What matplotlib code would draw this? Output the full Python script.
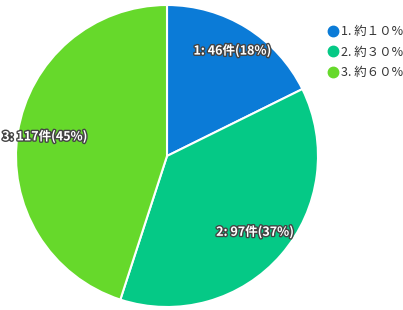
import numpy as np
import matplotlib.pyplot as plt
import matplotlib.patheffects as pe
from matplotlib.lines import Line2D

plt.rcParams['font.family'] = ['Noto Sans CJK JP', 'DejaVu Sans']

labels = ["1. 約１０%", "2. 約３０%", "3. 約６０%"]
counts = [46, 97, 117]
colors = ["#0b7bd7", "#05c986", "#66d92b"]

total = sum(counts)
texts = ["%d: %d件(%d%%)" % (i + 1, c, round(c * 100 / total)) for i, c in enumerate(counts)]

fig = plt.figure(figsize=(4.03, 3.10), dpi=100)
cx, cy, r = 167, 310 - 156, 151
ax = fig.add_axes([(cx - r) / 403, (cy - r) / 310, 2 * r / 403, 2 * r / 310])
wedges, _ = ax.pie(counts, colors=colors, startangle=90, counterclock=False,
                   wedgeprops=dict(edgecolor="white", linewidth=1.5))
ax.set_xlim(-1, 1)
ax.set_ylim(-1, 1)
ax.set_aspect("equal")

dists = [0.82, 0.77, 0.82]  # label placement
for w, t, d in zip(wedges, texts, dists):
    mid = np.deg2rad((w.theta1 + w.theta2) / 2)
    ax.text(d * np.cos(mid), d * np.sin(mid), t, ha="center", va="center",
            color="white", fontsize=9, fontweight="bold",
            path_effects=[pe.withStroke(linewidth=2, foreground="#444444")])

handles = [Line2D([], [], marker="o", linestyle="", markersize=7.5,
                  markerfacecolor=c, markeredgecolor=c) for c in colors]
fig.legend(handles, labels, loc="upper left", bbox_to_anchor=(322 / 403, 1 - 20 / 310),
           frameon=False, fontsize=9, handletextpad=0.1, labelspacing=0.6,
           labelcolor="#333333", handlelength=1.0, borderaxespad=0)

fig.savefig("out.png", dpi=100)
